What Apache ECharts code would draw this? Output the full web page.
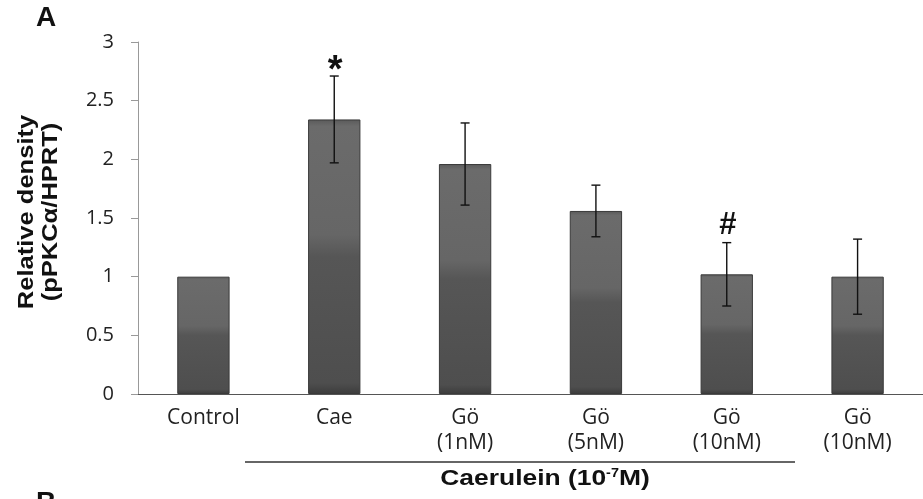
<!DOCTYPE html>
<html>
<head>
<meta charset="utf-8">
<script src="https://cdn.jsdelivr.net/npm/echarts@6/dist/echarts.min.js"></script>
<style>
html,body{margin:0;padding:0;background:#fff;}
#chart{width:923px;height:499px;}
</style>
</head>
<body>
<div id="chart"></div>
<script>
const categories = ['Control', 'Cae', 'Gö\n(1nM)', 'Gö\n(5nM)', 'Gö\n(10nM)', 'Gö\n(10nM)'];
const means = [1.0, 2.34, 1.96, 1.56, 1.02, 1.0];
const errors = [0, 0.37, 0.35, 0.22, 0.27, 0.32];
const marks = ['', '*', '', '', '#', ''];
const yTicks = [0, 0.5, 1, 1.5, 2, 2.5, 3];

const chart = echarts.init(document.getElementById('chart'));

const barColor = {
  type: 'linear', x: 0, y: 0, x2: 0, y2: 1,
  colorStops: [
    { offset: 0, color: '#5a5a5a' },
    { offset: 0.025, color: '#6b6b6b' },
    { offset: 0.42, color: '#666666' },
    { offset: 0.5, color: '#565656' },
    { offset: 0.96, color: '#4e4e4e' },
    { offset: 1, color: '#3c3c3c' }
  ]
};

const errData = means.map((m, i) => [i, m - errors[i], m + errors[i]]).filter((d, i) => errors[i] > 0);
const markData = means.map((m, i) => [i, m + errors[i], marks[i]]).filter(d => d[2] !== '');

chart.setOption({
  animation: false,
  backgroundColor: '#ffffff',
  grid: { left: 138, top: 42, width: 792, height: 352 },
  xAxis: {
    type: 'category',
    data: categories,
    axisLine: { lineStyle: { color: '#555555', width: 1.2 } },
    axisTick: { show: false },
    axisLabel: {
      fontFamily: 'Open Sans', fontSize: 21, color: '#222222', margin: 12, lineHeight: 25, interval: 0
    }
  },
  yAxis: {
    type: 'value',
    min: 0, max: 3, interval: 0.5,
    axisLine: { show: true, lineStyle: { color: '#999999' } },
    axisTick: { show: true, length: 7, lineStyle: { color: '#999999' } },
    splitLine: { show: false },
    axisLabel: {
      fontFamily: 'Open Sans', fontSize: 20, color: '#222222', margin: 24,
      formatter: v => yTicks.includes(v) ? String(v) : ''
    }
  },
  series: [
    {
      type: 'bar',
      data: means,
      barWidth: '40%',
      itemStyle: { color: barColor, borderColor: '#3a3a3a', borderWidth: 1 },
      z: 2
    },
    {
      type: 'custom',
      data: errData,
      z: 5,
      renderItem: function (params, api) {
        const x = api.value(0);
        const lo = api.coord([x, api.value(1)]);
        const hi = api.coord([x, api.value(2)]);
        const cw = 4.5;
        const style = { stroke: '#111111', lineWidth: 1.4 };
        return {
          type: 'group',
          children: [
            { type: 'line', shape: { x1: lo[0], y1: lo[1], x2: hi[0], y2: hi[1] }, style },
            { type: 'line', shape: { x1: hi[0] - cw, y1: hi[1], x2: hi[0] + cw, y2: hi[1] }, style },
            { type: 'line', shape: { x1: lo[0] - cw, y1: lo[1], x2: lo[0] + cw, y2: lo[1] }, style }
          ]
        };
      }
    },
    {
      type: 'custom',
      data: markData,
      z: 6,
      renderItem: function (params, api) {
        const x = api.value(0);
        const p = api.coord([x, api.value(1)]);
        const s = markData[params.dataIndex][2];
        const star = s === '*';
        return {
          type: 'text',
          x: p[0] + 1, y: star ? p[1] + 14 : p[1] - 2,
          style: {
            text: s, fill: '#111111',
            font: star ? 'bold 38px "Liberation Sans"' : 'bold 31px "Liberation Sans"',
            align: 'center', verticalAlign: 'bottom'
          }
        };
      }
    }
  ],
  graphic: [
    { type: 'text', left: 36, top: 4, style: { text: 'A', font: 'bold 28px "Liberation Sans"', fill: '#111111' } },
    { type: 'text', left: 36, top: 489, style: { text: 'B', font: 'bold 28px "Liberation Sans"', fill: '#111111' } },
    {
      type: 'text', x: 39, y: 212, rotation: Math.PI / 2, scaleX: 1.16,
      style: {
        text: 'Relative density\n(pPKCα/HPRT)',
        font: 'bold 22px "Liberation Sans"', lineHeight: 24, fill: '#111111',
        align: 'center', verticalAlign: 'middle'
      }
    },
    { type: 'line', shape: { x1: 245, y1: 462, x2: 795, y2: 462 }, style: { stroke: '#333333', lineWidth: 1.3 } },
    {
      type: 'text', x: 545, y: 479, scaleX: 1.2,
      style: {
        text: '{b|Caerulein (10}{s|-7}{b|M)}',
        align: 'center', verticalAlign: 'middle',
        rich: {
          b: { font: 'bold 22px "Liberation Sans"', fill: '#111111' },
          s: { font: 'bold 12px "Liberation Sans"', fill: '#111111', verticalAlign: 'top', padding: [0, 0, 9, 0] }
        }
      }
    }
  ]
});
</script>
</body>
</html>
